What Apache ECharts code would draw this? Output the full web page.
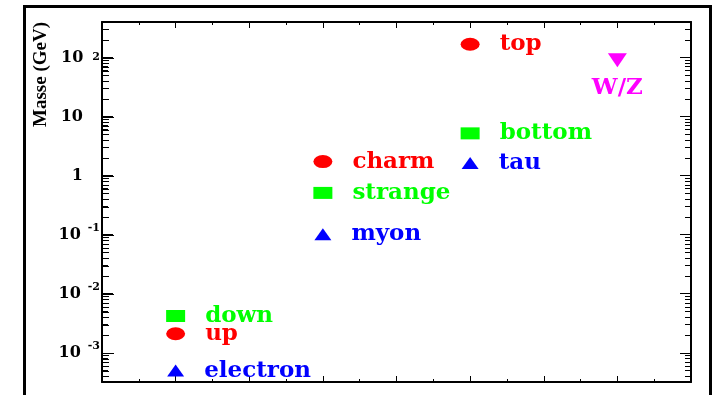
<!DOCTYPE html>
<html>
<head>
<meta charset="utf-8">
<script src="https://cdn.jsdelivr.net/npm/echarts@6/dist/echarts.min.js"></script>
<style>
html,body{margin:0;padding:0;background:#fff;}
#chart{width:716px;height:395px;}
</style>
</head>
<body>
<div id="chart"></div>
<script>
// ---- data (masses in GeV) ----
const generationX = [1, 3, 5];
const bosonX = [7];
const upTypeNames = ['up', 'charm', 'top'];
const upTypeMass = [0.0021, 1.73, 168];
const downTypeNames = ['down', 'strange', 'bottom'];
const downTypeMass = [0.0042, 0.51, 5.2];
const leptonNames = ['electron', 'myon', 'tau'];
const leptonMass = [0.0005, 0.102, 1.63];
const bosonNames = ['W/Z'];
const bosonMass = [90];
const yMin = 3.2e-4, yMax = 400;
const xMin = 0, xMax = 8;
const yTitle = 'Masse (GeV)';

function pts(xs, ms, names) {
  return xs.map((x, i) => ({ value: [x, ms[i]], name: names[i] }));
}

// tick positions of the left log axis (major decades + 2..9 minor), as [x, value, length]
const leftTicks = [];
for (let e = -4; e <= 3; e++) {
  for (let k = 1; k <= 9; k++) {
    const v = k * Math.pow(10, e);
    if (v > yMin && v < yMax) leftTicks.push([xMin, v, k === 1 ? 11 : 6]);
  }
}

const chart = echarts.init(document.getElementById('chart'));
const serifB = 'DejaVu Serif';
const labelFont = { fontFamily: serifB, fontWeight: 'bold', fontSize: 23 };

function yLabel(v) {
  const l = Math.log10(v);
  const e = Math.round(l);
  if (Math.abs(l - e) > 1e-6) return '';
  if (e === 0) return '{b|1}{n|}';
  if (e === 1) return '{b|10}{n|}';
  if (e < 0) return '{b|10}{m|' + e + '}';
  return '{b|10}{s|' + e + '}';
}
const richY = {
  b: { fontFamily: serifB, fontWeight: 'bold', fontSize: 16, lineHeight: 16, padding: [8, 0, 0, 0], verticalAlign: 'bottom', color: '#000' },
  s: { fontFamily: serifB, fontWeight: 'bold', fontSize: 11, lineHeight: 11, padding: [2, 0, 0, 9], verticalAlign: 'top', color: '#000' },
  m: { fontFamily: serifB, fontWeight: 'bold', fontSize: 11, lineHeight: 11, padding: [-4, 0, 0, 7], verticalAlign: 'top', color: '#000' },
  n: { width: 17, fontSize: 11, lineHeight: 11 }
};

const axisLineStyle = { color: '#000', width: 2 };
const tickStyle = { color: '#000', width: 1 };

function sc(name, data, symbol, size, color, rotate, pos, dist) {
  return {
    type: 'scatter', name: name, data: data, symbol: symbol, symbolSize: size,
    symbolRotate: rotate || 0,
    itemStyle: { color: color, opacity: 1 },
    label: {
      show: true, position: pos || 'right', distance: dist == null ? 20 : dist,
      formatter: '{b}', color: color, ...labelFont
    },
    emphasis: { disabled: true }, silent: true, z: 5
  };
}

function xAx(pos) {
  return { type: 'value', min: xMin, max: xMax, interval: 1, position: pos,
    axisLine: { show: true, lineStyle: axisLineStyle }, splitLine: { show: false },
    axisTick: { show: true, inside: true, length: 6, lineStyle: tickStyle },
    minorTick: { show: true, splitNumber: 2, length: 3, lineStyle: tickStyle },
    axisLabel: { show: false } };
}
function yAx(pos, onZero, showLabel) {
  return { type: 'log', logBase: 10, min: yMin, max: yMax, position: pos,
    axisLine: { show: true, onZero: onZero, lineStyle: axisLineStyle }, splitLine: { show: false },
    axisTick: { show: true, inside: true, length: 11, lineStyle: tickStyle },
    minorTick: { show: true, splitNumber: 9, length: 6, lineStyle: tickStyle },
    minorSplitLine: { show: false },
    axisLabel: showLabel ? { show: true, margin: 2, formatter: yLabel, rich: richY, showMinLabel: false, showMaxLabel: false } : { show: false } };
}

chart.setOption({
  animation: false,
  backgroundColor: '#fff',
  grid: { left: 102, top: 22, right: 25, bottom: 13, containLabel: false },
  xAxis: [xAx('bottom'), xAx('top')],
  yAxis: [yAx('left', true, true), yAx('right', false, false)],
  graphic: [
    { type: 'rect', shape: { x: 24.5, y: 6.5, width: 686, height: 420 },
      style: { fill: 'none', stroke: '#000', lineWidth: 3 }, silent: true },
    { type: 'text', x: 41, y: 22, rotation: Math.PI / 2,
      style: { text: yTitle, fontFamily: 'Liberation Serif', fontWeight: 'bold', fontSize: 19,
        fill: '#000', align: 'right', verticalAlign: 'middle' } }
  ],
  series: [
    {
      type: 'custom', name: 'leftTicks', xAxisIndex: 0, yAxisIndex: 0, silent: true, z: 4,
      data: leftTicks,
      renderItem: function (params, api) {
        const p = api.coord([api.value(0), api.value(1)]);
        const len = api.value(2);
        const y = Math.round(p[1]) + 0.5;
        const x0 = Math.round(p[0]) + 1;
        return { type: 'line', shape: { x1: x0, y1: y, x2: x0 + len, y2: y },
          style: { stroke: '#000', lineWidth: 1 } };
      }
    },
    sc('up-type', pts(generationX, upTypeMass, upTypeNames), 'circle', [19, 13], '#ff0000'),
    sc('down-type', pts(generationX, downTypeMass, downTypeNames), 'rect', [19, 12], '#00ff00'),
    sc('leptons', pts(generationX, leptonMass, leptonNames), 'triangle', [17, 12], '#0000ff'),
    sc('bosons', pts(bosonX, bosonMass, bosonNames), 'triangle', [19, 14], '#ff00ff', 180, 'bottom', 9)
  ]
});
</script>
</body>
</html>
